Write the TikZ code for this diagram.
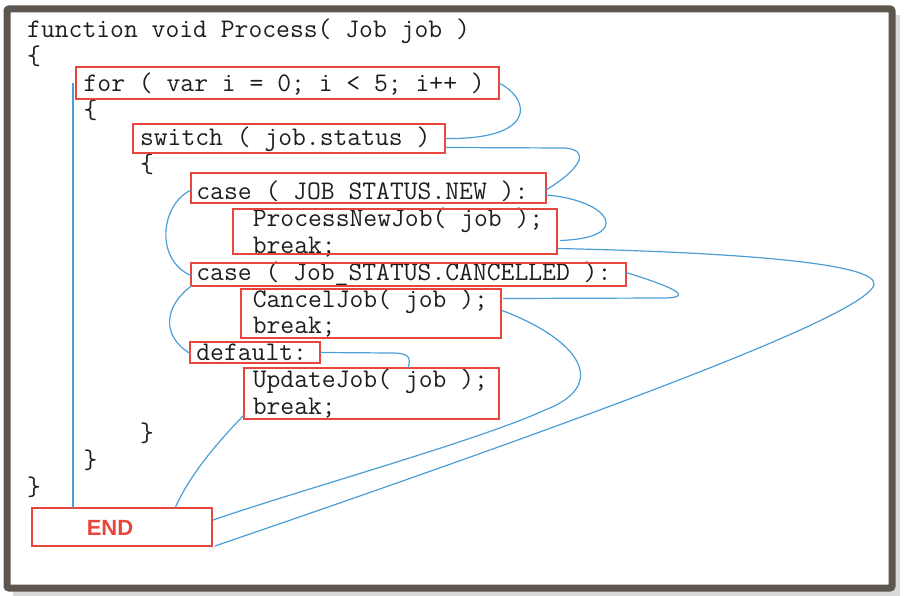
\documentclass[tikz,border=0pt]{standalone}
\usepackage{fontspec}
\newfontfamily\endfont{Liberation Sans}
\definecolor{boxred}{HTML}{E8463D}
\definecolor{flowblue}{HTML}{4C9ED6}
\definecolor{framegray}{HTML}{5C564F}
\definecolor{codeink}{HTML}{1E1E1E}

\begin{document}
\begin{tikzpicture}[x=1pt, y=-1pt,
    code/.style={font=\ttfamily\fontsize{26.86}{27}\selectfont, text=codeink, inner sep=0pt, anchor=base west},
    codebox/.style={draw=boxred, line width=1.8pt, inner sep=0pt, outer sep=0pt, anchor=north west},
    flow/.style={draw=flowblue, line width=1.2pt}]
    \def\cw{14.1}   % width of one code column
    \def\lh{26.9}   % height of one code line
    \def\xo{27}     % left edge of column 0
    \def\yo{38}     % baseline of line 0

    \useasboundingbox (0,0) rectangle (904,596);

    % Frame with its shadow
    \draw[line width=6pt, black!15] (897,15) -- (897,593) -- (13,593);
    \draw[line width=7pt, framegray, rounded corners=2pt] (7,9) rectangle (892,588);

    % Code lines
    \node[code] (l0) at ({\xo}, {\yo}) {function void Process( Job job )};
    \node[code] (l1) at ({\xo}, {\yo+\lh}) {\{};
    \node[code] (l2) at ({\xo+4*\cw}, {\yo+2*\lh}) {for ( var i = 0; i < 5; i++ )};
    \node[code] (l3) at ({\xo+4*\cw}, {\yo+3*\lh}) {\{};
    \node[code] (l4) at ({\xo+8*\cw}, {\yo+4*\lh}) {switch ( job.status )};
    \node[code] (l5) at ({\xo+8*\cw}, {\yo+5*\lh}) {\{};
    \node[code] (l6) at ({\xo+12*\cw}, {\yo+6*\lh}) {case ( JOB STATUS.NEW ):};
    \node[code] (l7) at ({\xo+16*\cw}, {\yo+7*\lh}) {ProcessNewJob( job );};
    \node[code] (l8) at ({\xo+16*\cw}, {\yo+8*\lh}) {break;};
    \node[code] (l9) at ({\xo+12*\cw}, {\yo+9*\lh}) {case ( Job\_STATUS.CANCELLED ):};
    \node[code] (l10) at ({\xo+16*\cw}, {\yo+10*\lh}) {CancelJob( job );};
    \node[code] (l11) at ({\xo+16*\cw}, {\yo+11*\lh}) {break;};
    \node[code] (l12) at ({\xo+12*\cw}, {\yo+12*\lh}) {default:};
    \node[code] (l13) at ({\xo+16*\cw}, {\yo+13*\lh}) {UpdateJob( job );};
    \node[code] (l14) at ({\xo+16*\cw}, {\yo+14*\lh}) {break;};
    \node[code] (l15) at ({\xo+8*\cw}, {\yo+15*\lh}) {\}};
    \node[code] (l16) at ({\xo+4*\cw}, {\yo+16*\lh}) {\}};
    \node[code] (l17) at ({\xo}, {\yo+17*\lh}) {\}};

    % Red boxes
    \node[codebox, minimum width=423pt, minimum height=32pt] (forbox) at (76,67) {};
    \node[codebox, minimum width=312pt, minimum height=29pt] (swbox) at (133,124) {};
    \node[codebox, minimum width=355pt, minimum height=30pt] (newbox) at (191,173) {};
    \node[codebox, minimum width=324pt, minimum height=45pt] (procbox) at (233,209) {};
    \node[codebox, minimum width=435pt, minimum height=23pt] (cancbox) at (191,263) {};
    \node[codebox, minimum width=260pt, minimum height=49pt] (cjobbox) at (241,289) {};
    \node[codebox, minimum width=130pt, minimum height=21pt] (defbox) at (190,342) {};
    \node[codebox, minimum width=255pt, minimum height=51pt] (updbox) at (244,368) {};
    \node[codebox, minimum width=180pt, minimum height=38pt] (endbox) at (32,508) {};
    \node[font=\endfont\bfseries\fontsize{22}{22}\selectfont, text=boxred, inner sep=0pt] (endtxt) at (110,527.5) {END};

    % Flow lines
    \draw[flow] ([xshift=-3pt]forbox.west) -- ([xshift=-3pt]forbox.west |- endbox.north);
    \draw[flow] (forbox.east) .. controls (532,100) and (536,140) .. (swbox.east);
    \draw[flow] ([shift={(0,9)}]swbox.east) -- (565,148)
        .. controls (590,150) and (582,168) .. ([shift={(0,2)}]newbox.east);
    \draw[flow] ([shift={(0,7)}]newbox.east) .. controls (610,200) and (635,238) .. ([shift={(3,9)}]procbox.east);
    \draw[flow] ([shift={(1,17)}]procbox.east) .. controls (720,252) and (880,262) .. (874,285)
        .. controls (865,310) and (700,380) .. ([xshift=3pt]endbox.south east);
    \draw[flow] ([shift={(0,-2)}]cancbox.east) .. controls (660,283) and (700,297) .. (665,298)
        -- ([shift={(2,-15)}]cjobbox.east);
    \draw[flow] ([shift={(1,-3)}]cjobbox.east) .. controls (580,340) and (610,385) .. (545,410)
        .. controls (480,440) and (300,490) .. ([shift={(1,-7)}]endbox.east);
    \draw[flow] (defbox.east) -- (392,353) .. controls (410,353) and (411,358) .. ([xshift=164pt]updbox.north west);
    \draw[flow] ([shift={(0,-4)}]updbox.south west) .. controls (215,445) and (190,475) .. ([xshift=143pt]endbox.north west);
    \draw[flow] ([shift={(0,2)}]newbox.west) .. controls (160,205) and (155,260) .. ([shift={(0,1)}]cancbox.west);
    \draw[flow] ([shift={(1,11)}]cancbox.west) .. controls (165,305) and (160,335) .. ([shift={(0,1)}]defbox.west);
\end{tikzpicture}
\end{document}
